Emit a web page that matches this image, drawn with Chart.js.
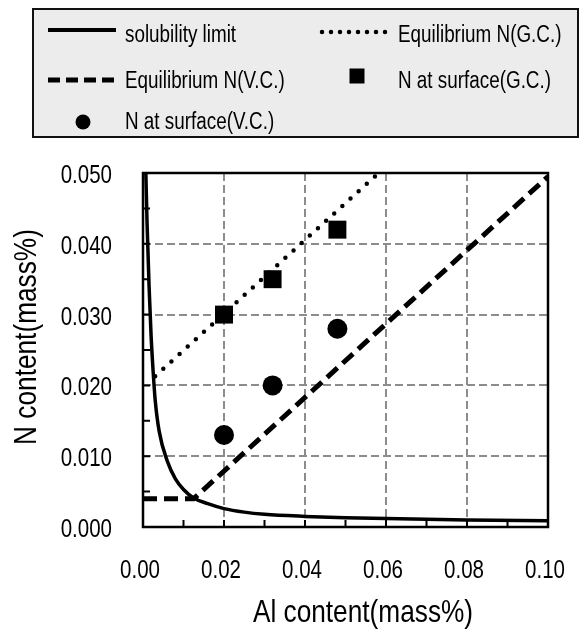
<!DOCTYPE html>
<html>
<head>
<meta charset="utf-8">
<script src="https://cdn.jsdelivr.net/npm/chart.js@4.4.1/dist/chart.umd.min.js"></script>
<style>
  html, body { margin: 0; padding: 0; background: #fff; }
  canvas { display: block; }
</style>
</head>
<body>
<canvas id="chart" width="579" height="629"></canvas>
<script>
// solubility limit
const solubilityAl = [0.0007, 0.001, 0.0015, 0.002, 0.0025, 0.003, 0.004, 0.006, 0.008, 0.010, 0.0125, 0.016, 0.02, 0.025, 0.03, 0.04, 0.05, 0.06, 0.08, 0.10];
const solubilityN  = [0.050, 0.043, 0.034, 0.027, 0.022, 0.018, 0.0135, 0.0093, 0.0068, 0.0053, 0.0041, 0.0033, 0.0026, 0.0021, 0.0018, 0.0015, 0.0013, 0.0012, 0.0010, 0.0009];

// equilibrium N, gas carburizing
const eqGcAl = [0.003, 0.058];
const eqGcN  = [0.0213, 0.0499];

// equilibrium N, vacuum carburizing
const eqVcAl = [0.0, 0.0125, 0.10];
const eqVcN  = [0.0040, 0.0040, 0.0495];

// measured N at surface
const surfGcAl = [0.020, 0.032, 0.048];
const surfGcN  = [0.030, 0.035, 0.042];
const surfVcAl = [0.020, 0.032, 0.048];
const surfVcN  = [0.013, 0.020, 0.028];

const xMajor = [0, 0.02, 0.04, 0.06, 0.08, 0.10];
const xLabels = ['0.00', '0.02', '0.04', '0.06', '0.08', '0.10'];
const yMajor = [0, 0.01, 0.02, 0.03, 0.04, 0.05];
const yLabels = ['0.000', '0.010', '0.020', '0.030', '0.040', '0.050'];

// Arial Narrow look-alike: Liberation Sans squeezed horizontally
const FONT = "'Liberation Sans', Arial, sans-serif";
const NARROW = 0.82;

const toPoints = (xs, ys) => xs.map((x, i) => ({ x: x, y: ys[i] }));
const majorIndex = (list, v) => list.findIndex(m => Math.abs(m - v) < 1e-9);

function narrowText(ctx, text, x, y, size, align) {
  ctx.save();
  ctx.translate(x, y);
  ctx.scale(NARROW, 1);
  ctx.font = size + 'px ' + FONT;
  ctx.textAlign = align;
  ctx.textBaseline = 'alphabetic';
  ctx.fillStyle = '#000';
  ctx.fillText(text, 0, 0);
  ctx.restore();
}

// inner tick marks + full frame round the plot area
const framePlugin = {
  id: 'frame',
  beforeDatasetsDraw(chart) {
    const { ctx, chartArea: a, scales: { x, y } } = chart;
    ctx.save();
    ctx.strokeStyle = '#000';
    ctx.lineWidth = 2;
    ctx.beginPath();
    x.ticks.forEach(t => {
      const px = x.getPixelForValue(t.value);
      ctx.moveTo(px, a.bottom);
      ctx.lineTo(px, a.bottom - 7);
    });
    y.ticks.forEach(t => {
      const py = y.getPixelForValue(t.value);
      ctx.moveTo(a.left, py);
      ctx.lineTo(a.left + 7, py);
    });
    ctx.stroke();
    ctx.lineWidth = 2.5;
    ctx.strokeRect(a.left, a.top, a.right - a.left, a.bottom - a.top);
    ctx.restore();
  }
};

// tick labels and axis titles
const textPlugin = {
  id: 'axisText',
  afterDraw(chart) {
    const { ctx, chartArea: a, scales: { x, y } } = chart;
    xMajor.forEach((v, i) => narrowText(ctx, xLabels[i], x.getPixelForValue(v) - 3, a.bottom + 51, 25, 'center'));
    yMajor.forEach((v, i) => narrowText(ctx, yLabels[i], a.left - 31, y.getPixelForValue(v) + 10, 25, 'right'));
    narrowText(ctx, 'Al content(mass%)', 363, 622, 32, 'center');
    ctx.save();
    ctx.translate(36, 337);
    ctx.rotate(-Math.PI / 2);
    narrowText(ctx, 'N content(mass%)', 0, 0, 32, 'center');
    ctx.restore();
  }
};

// boxed legend on a 2-column grid
const legendSlots = [
  { ds: 0, x: 48, y: 30, tx: 125, ty: 42 },
  { ds: 1, x: 322, y: 32, tx: 398, ty: 42 },
  { ds: 2, x: 48, y: 80, tx: 125, ty: 88 },
  { ds: 3, x: 357, y: 76, tx: 398, ty: 88 },
  { ds: 4, x: 83, y: 122, tx: 125, ty: 129 }
];
const legendPlugin = {
  id: 'boxLegend',
  afterDraw(chart) {
    const ctx = chart.ctx;
    ctx.save();
    ctx.fillStyle = '#ececec';
    ctx.fillRect(33, 9, 545, 128);
    ctx.strokeStyle = '#111';
    ctx.lineWidth = 2;
    ctx.strokeRect(33, 9, 545, 128);
    legendSlots.forEach(s => {
      const ds = chart.data.datasets[s.ds];
      ctx.save();
      ctx.strokeStyle = '#000';
      ctx.fillStyle = '#000';
      if (ds.showLine) {
        ctx.lineWidth = ds.legendWidth || ds.borderWidth;
        ctx.lineCap = ds.borderCapStyle || 'butt';
        ctx.setLineDash(ds.legendDash || ds.borderDash || []);
        ctx.beginPath();
        ctx.moveTo(s.x, s.y);
        ctx.lineTo(s.x + 68, s.y);
        ctx.stroke();
      } else {
        Chart.helpers.drawPoint(ctx, { pointStyle: ds.pointStyle, radius: ds.legendRadius, rotation: 0, borderWidth: 0 }, s.x, s.y);
      }
      ctx.restore();
      narrowText(ctx, ds.label, s.tx, s.ty, 23, 'left');
    });
    ctx.restore();
  }
};

new Chart(document.getElementById('chart'), {
  type: 'scatter',
  data: {
    datasets: [
      {
        label: 'solubility limit',
        data: toPoints(solubilityAl, solubilityN),
        showLine: true,
        borderColor: '#000',
        borderWidth: 3.5,
        legendWidth: 4,
        pointRadius: 0,
        cubicInterpolationMode: 'monotone',
        order: 3
      },
      {
        label: 'Equilibrium N(G.C.)',
        data: toPoints(eqGcAl, eqGcN),
        showLine: true,
        borderColor: '#000',
        borderWidth: 4.5,
        borderCapStyle: 'round',
        borderDash: [0, 11],
        legendDash: [0, 9],
        pointRadius: 0,
        order: 3
      },
      {
        label: 'Equilibrium N(V.C.)',
        data: toPoints(eqVcAl, eqVcN),
        showLine: true,
        borderColor: '#000',
        borderWidth: 5,
        borderDash: [14, 7],
        legendDash: [12, 6],
        pointRadius: 0,
        order: 3
      },
      {
        label: 'N at surface(G.C.)',
        data: toPoints(surfGcAl, surfGcN),
        pointStyle: 'rect',
        pointRadius: 12.7,
        legendRadius: 10.6,
        backgroundColor: '#000',
        borderColor: '#000',
        borderWidth: 0,
        order: 1
      },
      {
        label: 'N at surface(V.C.)',
        data: toPoints(surfVcAl, surfVcN),
        pointStyle: 'circle',
        pointRadius: 10,
        legendRadius: 7.5,
        backgroundColor: '#000',
        borderColor: '#000',
        borderWidth: 0,
        order: 1
      }
    ]
  },
  options: {
    responsive: false,
    animation: false,
    layout: { padding: { left: 0, top: 173, right: 31, bottom: 0 } },
    plugins: {
      legend: { display: false },
      tooltip: { enabled: false }
    },
    scales: {
      x: {
        type: 'linear',
        min: 0,
        max: 0.1,
        afterFit: s => { s.height = 102; },
        ticks: { stepSize: 0.01, autoSkip: false, maxRotation: 0, display: false },
        grid: {
          drawTicks: false,
          lineWidth: 2,
          color: c => {
            const i = majorIndex(xMajor, c.tick.value);
            return (i > 0 && i < xMajor.length - 1) ? '#8c8c8c' : 'rgba(0,0,0,0)';
          }
        },
        border: { display: false, dash: [8, 4] }
      },
      y: {
        type: 'linear',
        min: 0,
        max: 0.05,
        afterFit: s => { s.width = 143; },
        ticks: { stepSize: 0.005, autoSkip: false, display: false },
        grid: {
          drawTicks: false,
          lineWidth: 2,
          color: c => {
            const i = majorIndex(yMajor, c.tick.value);
            return (i > 0 && i < yMajor.length - 1) ? '#8c8c8c' : 'rgba(0,0,0,0)';
          }
        },
        border: { display: false, dash: [8, 4] }
      }
    }
  },
  plugins: [framePlugin, textPlugin, legendPlugin]
});
</script>
</body>
</html>
